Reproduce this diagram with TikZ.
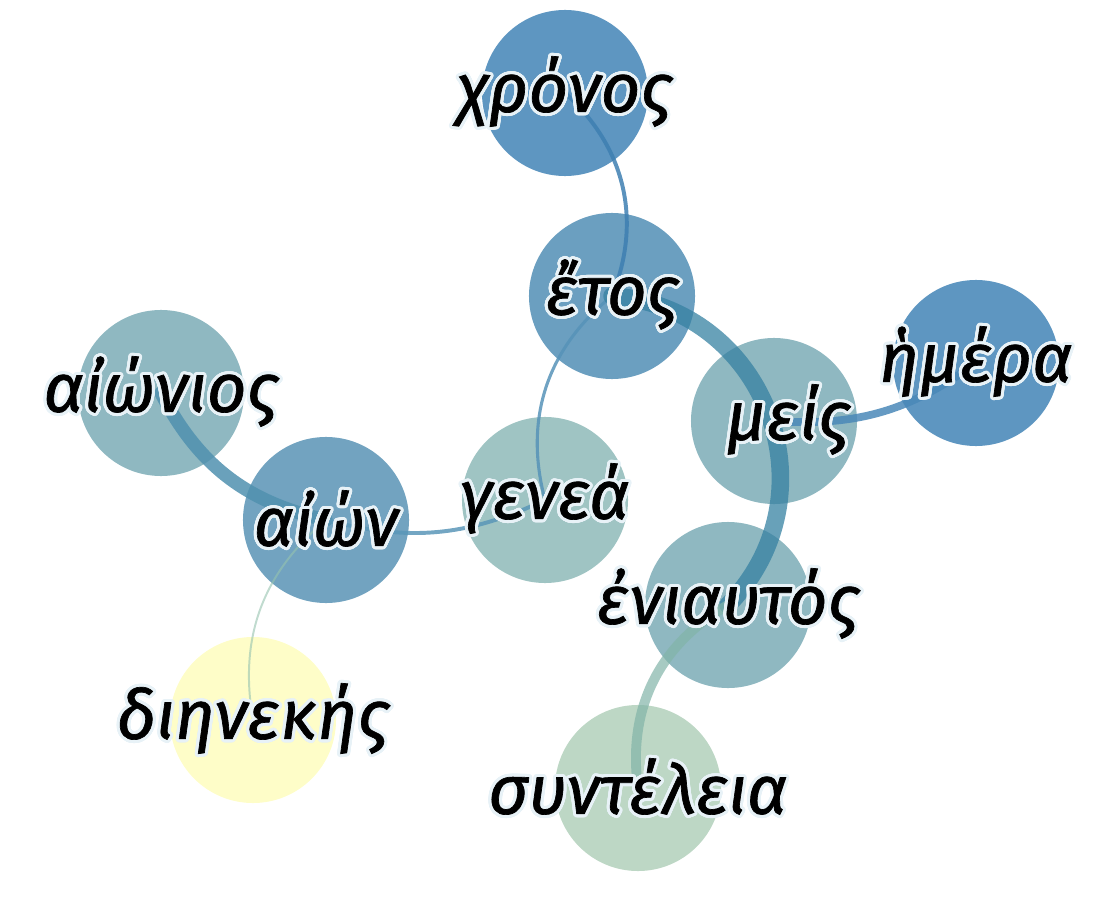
\documentclass[tikz,border=0pt]{standalone}
\usepackage{fontspec}
\setmainfont{Fira Sans}[ItalicFeatures={FakeBold=1}]
\usepackage{contour}
\contourlength{2.2pt}
\contournumber{32}
\definecolor{deepblue}{HTML}{5E96C1}
\definecolor{midblue}{HTML}{6B9FC0}
\definecolor{paleblue}{HTML}{72A3C0}
\definecolor{greyblue}{HTML}{8FB8C1}
\definecolor{seablue}{HTML}{9FC4C3}
\definecolor{sage}{HTML}{BDD7C5}
\definecolor{cream}{HTML}{FEFDC8}
\definecolor{halo}{HTML}{E8F2F7}
\newcommand{\greekword}[1]{\contour{halo}{#1}}
\begin{document}
\begin{tikzpicture}[x=0.025cm,y=0.025cm,
    disc/.style = {circle,inner sep=0pt,minimum size=4.15cm},
    greek/.style = {inner sep=0pt,font=\fontsize{49}{56}\selectfont\itshape},
    link/.style = {line cap=round,opacity=0.85}]
    \useasboundingbox (0,0) rectangle (1117,-899);

    % circles
    \node[disc,fill=deepblue] (chronos) at (565,-93) {};
    \node[disc,fill=midblue] (etos) at (612,-296) {};
    \node[disc,fill=deepblue] (hemera) at (976,-363) {};
    \node[disc,fill=greyblue] (meis) at (774,-421) {};
    \node[disc,fill=greyblue] (aionios) at (161,-393) {};
    \node[disc,fill=paleblue] (aion) at (326,-520) {};
    \node[disc,fill=seablue] (genea) at (545,-500) {};
    \node[disc,fill=greyblue] (eniautos) at (728,-605) {};
    \node[disc,fill=sage] (synteleia) at (638,-788) {};
    \node[disc,fill=cream] (dienekes) at (253,-720) {};

    % links
    \draw[link,color={rgb,255:red,62;green,127;blue,177},line width=2.8pt]
        (chronos.center) to[bend left=35] (etos.center);
    \draw[link,color={rgb,255:red,87;green,147;blue,184},line width=2.2pt]
        (etos.center) to[bend right=33] (genea.center);
    \draw[link,opacity=0.75,color={rgb,255:red,54;green,129;blue,162},line width=12.5pt]
        (etos.center) to[bend left=65,looseness=1.2] (eniautos.center);
    \draw[link,color={rgb,255:red,74;green,136;blue,184},line width=5.5pt]
        (meis.center) to[bend right=20] (hemera.center);
    \draw[link,opacity=0.7,color={rgb,255:red,130;green,180;blue,168},line width=7pt]
        (eniautos.center) to[bend right=34] (synteleia.center);
    \draw[link,color={rgb,255:red,80;green,145;blue,175},line width=9.5pt]
        (aionios.center) to[bend right=25] (aion.center);
    \draw[link,color={rgb,255:red,90;green,151;blue,184},line width=2.8pt]
        (aion.center) to[bend right=20] (genea.center);
    \draw[link,opacity=0.6,color={rgb,255:red,150;green,195;blue,175},line width=1.4pt]
        (aion.center) to[bend right=30] (dienekes.center);

    % words
    \node[greek] (chronos-t) at (chronos) {\greekword{χρόνος}};
    \node[greek] (etos-t) at (etos) {\greekword{ἔτος}};
    \node[greek] (hemera-t) at (hemera) {\greekword{ἡμέρα}};
    \node[greek] (meis-t) at ([xshift=10]meis) {\greekword{μείς}};
    \node[greek] (aionios-t) at (aionios) {\greekword{αἰώνιος}};
    \node[greek] (aion-t) at (aion) {\greekword{αἰών}};
    \node[greek] (genea-t) at (genea) {\greekword{γενεά}};
    \node[greek] (eniautos-t) at (eniautos) {\greekword{ἐνιαυτός}};
    \node[greek] (synteleia-t) at (synteleia) {\greekword{συντέλεια}};
    \node[greek] (dienekes-t) at (dienekes) {\greekword{διηνεκής}};
\end{tikzpicture}
\end{document}
